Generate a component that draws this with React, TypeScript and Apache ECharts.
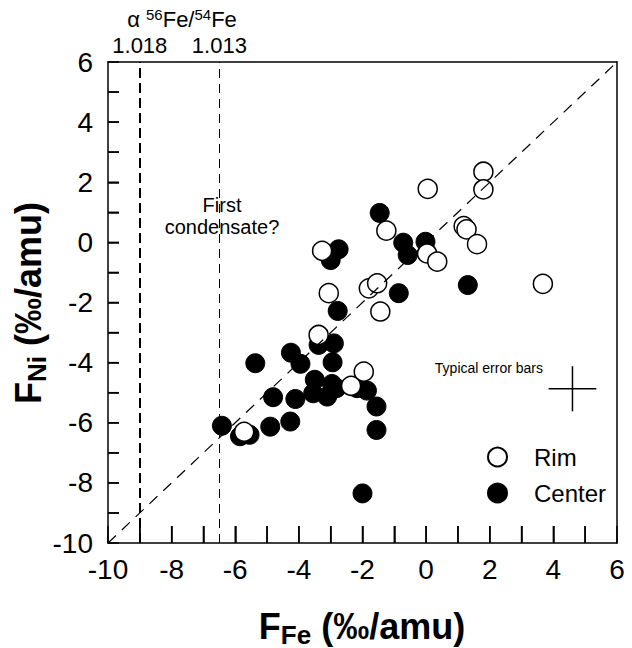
import React, { useEffect, useRef } from "react";
import * as echarts from "echarts";

const rimX = [1.8, 1.8, 0.05, 1.18, 1.27, 1.6, -1.25, -3.27, 0.03, 0.35, -1.8, -1.54, -3.06, -1.44, 3.67, -3.38, -1.96, -2.36, -5.72];
const rimY = [2.35, 1.76, 1.78, 0.54, 0.43, -0.06, 0.39, -0.28, -0.37, -0.64, -1.53, -1.36, -1.69, -2.3, -1.38, -3.08, -4.3, -4.77, -6.3];

const centerX = [-1.46, -3.0, -2.75, -0.72, -0.58, -0.02, 1.31, -0.86, -2.78, -3.38, -2.9, -4.25, -3.95, -5.37, -2.94, -3.5, -2.96, -2.17, -1.86, -2.82, -3.55, -3.11, -4.11, -4.81, -1.56, -4.27, -4.9, -6.42, -5.85, -5.55, -1.56, -2.0];
const centerY = [0.98, -0.59, -0.23, -0.01, -0.42, 0.02, -1.42, -1.69, -2.28, -3.41, -3.36, -3.67, -4.04, -4.02, -3.99, -4.57, -4.71, -4.85, -4.93, -4.85, -5.02, -5.13, -5.21, -5.15, -5.46, -5.96, -6.13, -6.1, -6.45, -6.4, -6.24, -8.35];

const axisMin = -10;
const axisMax = 6;
const tickStep = 2;
const tickValues = [-9, -8, -7, -6, -5, -4, -3, -2, -1, 0, 1, 2, 3, 4, 5];

const fractionLines = [-9, -6.5];
const fractionLabels = ["1.018", "1.013"];

const errorCenter = [4.6, -4.87];
const errorHalf = 0.75;

const FONT = "Liberation Sans, Arial, Helvetica, sans-serif";

export default function App() {
  const ref = useRef<HTMLDivElement>(null);
  useEffect(() => {
    if (!ref.current) return;
    const chart = echarts.init(ref.current, null, { renderer: "svg" });
    const rimData = rimX.map((x, i) => [x, rimY[i]]);
    const centerData = centerX.map((x, i) => [x, centerY[i]]);
    const tickStyle = { color: "#000", width: 1.5 };
    const label = { show: true, color: "#000", fontSize: 28, fontFamily: FONT };
    const frameAxis = (position: string) => ({
      type: "value",
      min: axisMin,
      max: axisMax,
      interval: tickStep,
      position,
      splitLine: { show: false },
      axisLine: { show: true, onZero: false, lineStyle: { color: "#000", width: 1.5 } },
      axisTick: { show: false },
      axisLabel: { show: false },
    });
    const option = {
      animation: false,
      backgroundColor: "#fff",
      grid: {
        left: 108,
        right: 15,
        top: 62,
        bottom: 105,
      },
      xAxis: [
        {
          type: "value",
          min: axisMin,
          max: axisMax,
          interval: tickStep,
          position: "bottom",
          splitLine: { show: false },
          axisLine: { show: true, onZero: false, lineStyle: { color: "#000", width: 1.5 } },
          axisTick: { show: true, inside: true, length: 17, lineStyle: tickStyle },
          minorTick: { show: true, splitNumber: 2, length: 17, lineStyle: tickStyle },
          axisLabel: { ...label, margin: 12 },
        },
        frameAxis("top"),
      ],
      yAxis: [
        {
          type: "value",
          min: axisMin,
          max: axisMax,
          interval: tickStep,
          position: "left",
          splitLine: { show: false },
          axisLine: { show: true, onZero: false, lineStyle: { color: "#000", width: 1.5 } },
          axisTick: { show: true, inside: true, length: 11, lineStyle: tickStyle },
          minorTick: { show: true, splitNumber: 2, length: 11, lineStyle: tickStyle },
          axisLabel: { ...label, margin: 15 },
        },
        frameAxis("right"),
      ],
      legend: {
        orient: "vertical",
        left: 482,
        top: 440,
        itemWidth: 19,
        itemHeight: 19,
        itemGap: 12,
        data: ["Rim", "Center"],
        textStyle: { color: "#000", fontSize: 24, fontFamily: FONT, padding: [0, 0, 0, 22] },
      },
      graphic: [
        {
          type: "text",
          x: 182,
          y: 19,
          style: {
            text: "α {sup|56}Fe/{sup|54}Fe",
            align: "center",
            verticalAlign: "middle",
            fill: "#000",
            fontSize: 22,
            fontFamily: FONT,
            rich: {
              sup: { fontSize: 15, fontFamily: FONT, fill: "#000", padding: [0, 0, 9, 0] },
            },
          },
        },
        {
          type: "text",
          x: 222,
          y: 216,
          style: {
            text: "First\ncondensate?",
            align: "center",
            verticalAlign: "middle",
            fill: "#000",
            fontSize: 20,
            lineHeight: 22,
            fontFamily: FONT,
          },
        },
        {
          type: "text",
          x: 543,
          y: 368,
          style: {
            text: "Typical error bars",
            align: "right",
            verticalAlign: "middle",
            fill: "#000",
            fontSize: 14,
            fontFamily: FONT,
          },
        },
        {
          type: "text",
          x: 362,
          y: 626,
          style: {
            text: "F{sub|Fe} (‰/amu)",
            align: "center",
            verticalAlign: "middle",
            fill: "#000",
            fontSize: 36,
            fontWeight: "bold",
            fontFamily: FONT,
            rich: {
              sub: { fontSize: 26, fontWeight: "bold", fontFamily: FONT, fill: "#000", padding: [17, 0, 0, 0] },
            },
          },
        },
        {
          type: "text",
          x: 28,
          y: 303,
          rotation: Math.PI / 2,
          style: {
            text: "F{sub|Ni} (‰/amu)",
            align: "center",
            verticalAlign: "middle",
            fill: "#000",
            fontSize: 36,
            fontWeight: "bold",
            fontFamily: FONT,
            rich: {
              sub: { fontSize: 26, fontWeight: "bold", fontFamily: FONT, fill: "#000", padding: [17, 0, 0, 0] },
            },
          },
        },
      ],
      series: [
        {
          name: "xTicks",
          type: "custom",
          silent: true,
          data: tickValues.map((v) => [v, axisMin]),
          renderItem: (params: any, api: any) => {
            const p = api.coord([api.value(0), axisMin]);
            return {
              type: "line",
              shape: { x1: p[0], y1: p[1], x2: p[0], y2: p[1] - 17 },
              style: { stroke: "#000", lineWidth: 1.5 },
            };
          },
          z: 6,
        },
        {
          name: "yTicks",
          type: "custom",
          silent: true,
          data: tickValues.map((v) => [axisMin, v]),
          renderItem: (params: any, api: any) => {
            const p = api.coord([axisMin, api.value(1)]);
            return {
              type: "line",
              shape: { x1: p[0], y1: p[1], x2: p[0] + 11, y2: p[1] },
              style: { stroke: "#000", lineWidth: 1.5 },
            };
          },
          z: 6,
        },
        {
          name: "Center",
          type: "scatter",
          data: centerData,
          symbol: "circle",
          symbolSize: 19,
          itemStyle: { color: "#000", borderColor: "#000", borderWidth: 1, opacity: 1 },
          z: 3,
          markLine: {
            silent: true,
            symbol: "none",
            animation: false,
            data: [
              [
                { coord: [axisMin, axisMin], lineStyle: { type: [11, 8], width: 1.2, color: "#000" } },
                { coord: [axisMax, axisMax] },
              ],
              {
                xAxis: fractionLines[0],
                lineStyle: { type: [10, 5], width: 2, color: "#000" },
                label: { show: true, position: "end", formatter: fractionLabels[0], fontSize: 22, fontFamily: FONT, color: "#000", distance: 6 },
              },
              {
                xAxis: fractionLines[1],
                lineStyle: { type: [9, 6], width: 1, color: "#000" },
                label: { show: true, position: "end", formatter: fractionLabels[1], fontSize: 22, fontFamily: FONT, color: "#000", distance: 6 },
              },
            ],
            label: { show: false },
          },
        },
        {
          name: "Rim",
          type: "scatter",
          data: rimData,
          symbol: "circle",
          symbolSize: 19,
          itemStyle: { color: "#fff", borderColor: "#000", borderWidth: 1.5, opacity: 1 },
          z: 4,
        },
        {
          name: "errH",
          type: "line",
          data: [
            [errorCenter[0] - errorHalf, errorCenter[1]],
            [errorCenter[0] + errorHalf, errorCenter[1]],
          ],
          symbol: "none",
          lineStyle: { color: "#000", width: 1.5 },
          silent: true,
        },
        {
          name: "errV",
          type: "line",
          data: [
            [errorCenter[0], errorCenter[1] - errorHalf],
            [errorCenter[0], errorCenter[1] + errorHalf],
          ],
          symbol: "none",
          lineStyle: { color: "#000", width: 1.5 },
          silent: true,
        },
      ],
    };
    chart.setOption(option as any);
    return () => chart.dispose();
  }, []);
  return (
    <div
      ref={ref}
      style={{ position: "fixed", left: 0, top: 0, width: 632, height: 648, background: "#fff" }}
    />
  );
}
